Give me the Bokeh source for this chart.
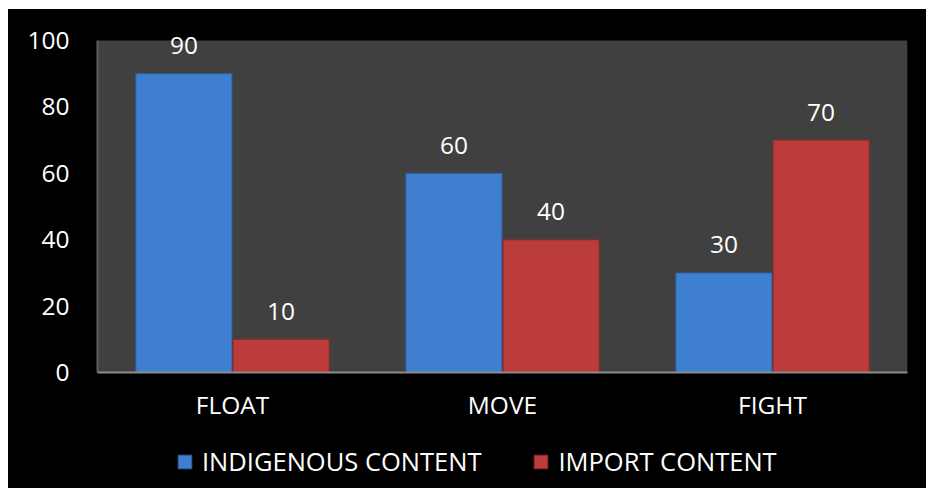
from bokeh.plotting import figure
from bokeh.layouts import column
from bokeh.models import ColumnDataSource, Legend, LegendItem, FactorRange, BoxAnnotation
from bokeh.transform import dodge
from bokeh.core.properties import value
from bokeh.embed import file_html
from bokeh.resources import INLINE

categories = ["FLOAT", "MOVE", "FIGHT"]
indigenous = [90, 60, 30]
imported = [10, 40, 70]
series_names = ["INDIGENOUS CONTENT", "IMPORT CONTENT"]
y_ticks = [0, 20, 40, 60, 80, 100]
y_min, y_max = 0, 100

FONT = "Open Sans"
FS = "24.5px"
TXT = "#FFFFFF"
BLUE = "#3F7FCF"
RED = "#BC3B3B"
BLUE_EDGE = "#2F5F9A"
RED_EDGE = "#8A2A2A"

src = ColumnDataSource(dict(
    cat=categories, ind=indigenous, imp=imported,
    ind_lbl=[str(v) for v in indigenous], imp_lbl=[str(v) for v in imported],
))

xr = FactorRange(*categories, range_padding=0)

# frame reaches a little above 100 so that the top value label is not clipped
p = figure(
    x_range=xr, y_range=(y_min, 106.63),
    width=918, height=431, output_backend="svg", toolbar_location=None,
    min_border_left=89, min_border_right=19, min_border_top=9, min_border_bottom=68,
    background_fill_color="black", border_fill_color="black", outline_line_color=None,
)
p.add_layout(BoxAnnotation(bottom=y_min, top=y_max, fill_color="#404040", fill_alpha=1,
                           line_color=None, level="underlay"))

r1 = p.vbar(x=dodge("cat", -0.18, range=xr), top="ind", width=0.356, source=src,
            fill_color=BLUE, line_color=BLUE_EDGE, line_width=1)
r2 = p.vbar(x=dodge("cat", 0.18, range=xr), top="imp", width=0.356, source=src,
            fill_color=RED, line_color=RED_EDGE, line_width=1)

p.text(x=dodge("cat", -0.18, range=xr), y="ind", text="ind_lbl", source=src,
       text_font=value(FONT), text_font_size=FS, text_color=TXT,
       text_align="center", text_baseline="middle", y_offset=-28)
p.text(x=dodge("cat", 0.18, range=xr), y="imp", text="imp_lbl", source=src,
       text_font=value(FONT), text_font_size=FS, text_color=TXT,
       text_align="center", text_baseline="middle", y_offset=-28)

p.xgrid.grid_line_color = None
p.ygrid.grid_line_color = None

p.yaxis.ticker = y_ticks
p.yaxis.bounds = (y_min, y_max)
p.yaxis.major_tick_line_color = None
p.yaxis.minor_tick_line_color = None
p.yaxis.axis_line_color = "#5E5E5E"
p.yaxis.axis_line_width = 2
p.yaxis.major_label_standoff = 22
p.yaxis.major_label_text_font = FONT
p.yaxis.major_label_text_font_size = FS
p.yaxis.major_label_text_color = TXT

p.xaxis.major_tick_line_color = None
p.xaxis.minor_tick_line_color = None
p.xaxis.axis_line_color = "#8C8C8C"
p.xaxis.axis_line_width = 2
p.xaxis.major_label_standoff = 9
p.xaxis.major_label_text_font = FONT
p.xaxis.major_label_text_font_size = FS
p.xaxis.major_label_text_color = TXT

# legend strip below the chart
q = figure(
    x_range=xr, y_range=(y_min, y_max),
    width=918, height=48, output_backend="svg", toolbar_location=None,
    min_border=0, x_axis_location=None, y_axis_location=None,
    background_fill_alpha=0, border_fill_alpha=0, outline_line_color=None,
)
q.xgrid.grid_line_color = None
q.ygrid.grid_line_color = None
l1 = q.vbar(x="cat", top="ind", width=0.356, source=src,
            fill_color=BLUE, line_color=BLUE_EDGE, line_width=1, visible=False)
l2 = q.vbar(x="cat", top="imp", width=0.356, source=src,
            fill_color=RED, line_color=RED_EDGE, line_width=1, visible=False)

legend = Legend(
    items=[LegendItem(label=series_names[0], renderers=[l1]),
           LegendItem(label=series_names[1], renderers=[l2])],
    orientation="horizontal", location=(79, 10),
    padding=0, margin=0, spacing=51, label_standoff=9,
    glyph_width=17, glyph_height=17,
    border_line_alpha=0, background_fill_alpha=0, inactive_fill_alpha=0,
    label_text_font=FONT, label_text_font_size="25.5px", label_text_color=TXT,
)
q.add_layout(legend, "center")

layout = column(p, q, spacing=0)
layout.styles = {"margin-left": "8px", "margin-top": "9px", "background-color": "black"}

open("out.html", "w").write(file_html(layout, INLINE))
